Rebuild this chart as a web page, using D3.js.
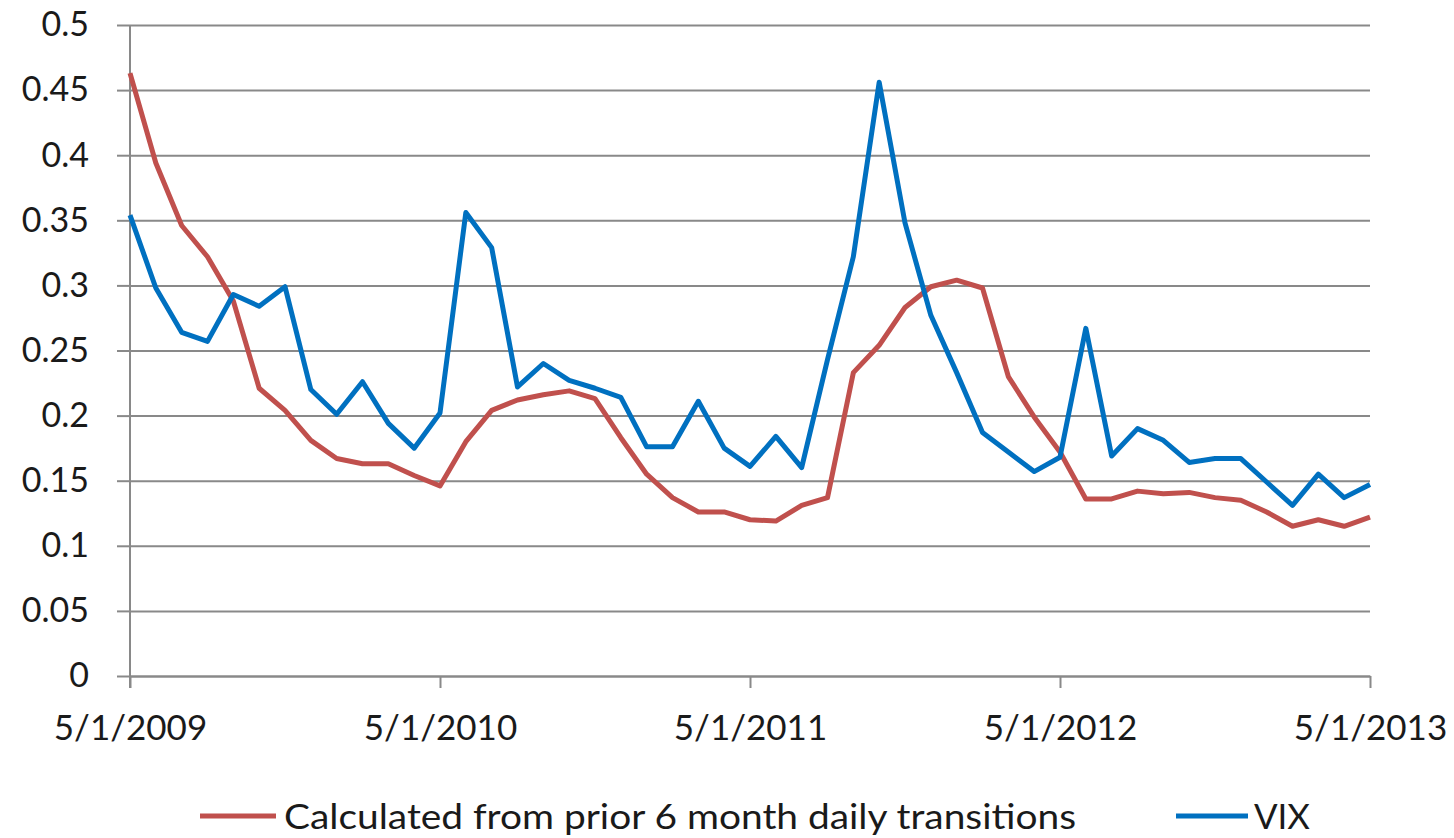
<!DOCTYPE html>
<html>
<head>
<meta charset="utf-8">
<script src="https://d3js.org/d3.v7.min.js"></script>
<style>
  body { margin: 0; background: #fff; }
  text { font-family: Lato, "Noto Sans", sans-serif; fill: #1a1a1a; }
</style>
</head>
<body>
<script>
// monthly observations, 5/1/2009 .. 5/1/2013
var calculated = [0.463, 0.394, 0.346, 0.322, 0.288, 0.221, 0.204, 0.181, 0.167, 0.163, 0.163, 0.154, 0.146,
                  0.180, 0.204, 0.212, 0.216, 0.219, 0.213, 0.183, 0.155, 0.137, 0.126, 0.126, 0.120,
                  0.119, 0.131, 0.137, 0.233, 0.254, 0.283, 0.299, 0.304, 0.298, 0.230, 0.199, 0.172,
                  0.136, 0.136, 0.142, 0.140, 0.141, 0.137, 0.135, 0.126, 0.115, 0.120, 0.115, 0.122];
var vix = [0.354, 0.298, 0.264, 0.257, 0.293, 0.284, 0.299, 0.220, 0.201, 0.226, 0.194, 0.175, 0.202,
           0.356, 0.329, 0.222, 0.240, 0.227, 0.221, 0.214, 0.176, 0.176, 0.211, 0.175, 0.161,
           0.184, 0.160, 0.243, 0.322, 0.456, 0.348, 0.277, 0.233, 0.187, 0.172, 0.157, 0.168,
           0.267, 0.169, 0.190, 0.181, 0.164, 0.167, 0.167, 0.149, 0.131, 0.155, 0.137, 0.147];
var yTicks = [0, 0.05, 0.1, 0.15, 0.2, 0.25, 0.3, 0.35, 0.4, 0.45, 0.5];
var xTickLabels = ["5/1/2009", "5/1/2010", "5/1/2011", "5/1/2012", "5/1/2013"];
var seriesNames = ["Calculated from prior 6 month daily transitions", "VIX"];

var W = 1454, H = 838;
var plotLeft = 130, plotRight = 1370, plotTop = 25, plotBottom = 676;

var svg = d3.select("body").append("svg")
    .attr("width", W)
    .attr("height", H);

var x = d3.scaleLinear().domain([0, calculated.length - 1]).range([plotLeft, plotRight]);
var y = d3.scaleLinear().domain([0, 0.5]).range([plotBottom, plotTop]);

// gridlines + y labels
svg.append("g")
    .attr("transform", "translate(" + plotLeft + ",0)")
    .call(d3.axisLeft(y).tickValues(yTicks).tickSize(13).tickPadding(28)
        .tickFormat(function(d) { return String(+d.toFixed(2)); }))
    .call(function(g) {
        g.select(".domain").remove();
        g.selectAll(".tick line").attr("stroke", "#898989").attr("stroke-width", 2);
        g.selectAll(".tick").append("line")
            .attr("x1", 0).attr("x2", plotRight - plotLeft)
            .attr("stroke", "#898989").attr("stroke-width", 2);
        g.selectAll(".tick text").attr("font-size", 34).attr("font-family", null).attr("fill", "#1a1a1a");
    });

// vertical axis line
svg.append("line")
    .attr("x1", plotLeft).attr("x2", plotLeft).attr("y1", plotTop).attr("y2", plotBottom + 12)
    .attr("stroke", "#898989").attr("stroke-width", 2);

// x axis with yearly ticks
svg.append("g")
    .attr("transform", "translate(0," + plotBottom + ")")
    .call(d3.axisBottom(x).tickValues([0, 12, 24, 36, 48]).tickSize(12).tickSizeOuter(0).tickPadding(27)
        .tickFormat(function(d, i) { return xTickLabels[i]; }))
    .call(function(g) {
        g.select(".domain").attr("stroke", "#898989").attr("stroke-width", 2);
        g.selectAll(".tick line").attr("stroke", "#898989").attr("stroke-width", 2);
        g.selectAll(".tick text").attr("font-size", 35).attr("font-family", null).attr("fill", "#1a1a1a");
    });

var line = d3.line()
    .x(function(d, i) { return x(i); })
    .y(function(d) { return y(d); });

var colors = ["#C0504D", "#0070C0"];

svg.append("path")
    .datum(calculated)
    .attr("d", line)
    .attr("fill", "none")
    .attr("stroke", colors[0])
    .attr("stroke-width", 5)
    .attr("stroke-linejoin", "round");

svg.append("path")
    .datum(vix)
    .attr("d", line)
    .attr("fill", "none")
    .attr("stroke", colors[1])
    .attr("stroke-width", 5)
    .attr("stroke-linejoin", "round");

// legend
var legend = [
    {name: seriesNames[0], color: colors[0], x1: 200, x2: 276, tx: 284, tw: 792},
    {name: seriesNames[1], color: colors[1], x1: 1176, x2: 1248, tx: 1254, tw: 56}
];
var lg = svg.append("g");
legend.forEach(function(d) {
    lg.append("line")
        .attr("x1", d.x1).attr("x2", d.x2).attr("y1", 816).attr("y2", 816)
        .attr("stroke", d.color).attr("stroke-width", 5);
    lg.append("text")
        .attr("x", d.tx).attr("y", 829)
        .attr("font-size", 34)
        .attr("textLength", d.tw)
        .attr("lengthAdjust", "spacingAndGlyphs")
        .text(d.name);
});
</script>
</body>
</html>
